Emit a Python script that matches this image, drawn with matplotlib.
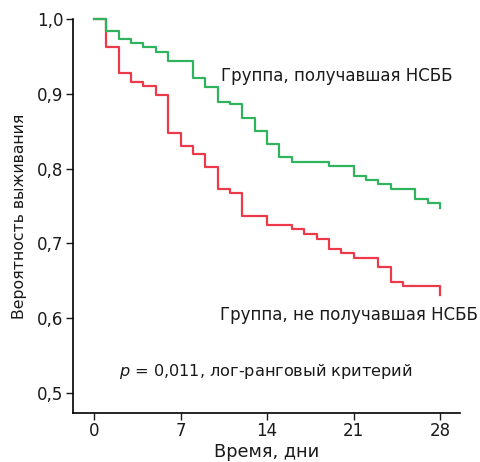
import matplotlib.pyplot as plt

# Кривые Каплана-Мейера
dni = list(range(0, 29))

s_nsbb = [1.000, 0.984, 0.973, 0.968, 0.962, 0.956, 0.944, 0.944, 0.921, 0.909,
          0.889, 0.886, 0.867, 0.850, 0.833, 0.815, 0.809, 0.809, 0.809, 0.803,
          0.803, 0.790, 0.785, 0.779, 0.773, 0.773, 0.760, 0.754, 0.748]

s_bez = [1.000, 0.962, 0.928, 0.916, 0.910, 0.899, 0.848, 0.830, 0.819, 0.802,
         0.773, 0.767, 0.737, 0.737, 0.725, 0.725, 0.719, 0.712, 0.706, 0.693,
         0.687, 0.681, 0.681, 0.669, 0.649, 0.643, 0.643, 0.643, 0.631]

x_ticks = [0, 7, 14, 21, 28]
y_ticks = [0.5, 0.6, 0.7, 0.8, 0.9, 1.0]
y_labels = ["0,5", "0,6", "0,7", "0,8", "0,9", "1,0"]

ZELENYI = "#2fb35c"
KRASNYI = "#ec3a4a"
TEKST = "#1a1a1a"

plt.rcParams["font.family"] = ["DejaVu Sans"]
plt.rcParams["mathtext.fontset"] = "dejavusans"

fig = plt.figure(figsize=(4.81, 4.62), dpi=100)
ax = fig.add_axes([0.1518, 0.1067, 0.8045, 0.8522])

ax.step(dni, s_bez, where="post", color=KRASNYI, linewidth=1.6, clip_on=False)
ax.step(dni, s_nsbb, where="post", color=ZELENYI, linewidth=1.6, clip_on=False)

ax.set_xlim(-1.7, 29.6)
ax.set_ylim(0.4737, 1.0)

ax.spines["top"].set_visible(False)
ax.spines["right"].set_visible(False)
ax.spines["left"].set_linewidth(1.2)
ax.spines["bottom"].set_linewidth(1.2)

ax.set_xticks(x_ticks)
ax.set_yticks(y_ticks)
ax.set_yticklabels(y_labels)
ax.tick_params(axis="both", labelsize=12, length=5, width=1.0, pad=2, colors=TEKST)

ax.set_xlabel("Время, дни", fontsize=12.8, labelpad=2, color=TEKST)
ax.set_ylabel("Вероятность выживания", fontsize=11.3, labelpad=7, color=TEKST)

ax.text(10.3, 0.924, "Группа, получавшая НСББ", fontsize=12, va="center", color=TEKST)
ax.text(10.2, 0.604, "Группа, не получавшая НСББ", fontsize=12, va="center", color=TEKST)
ax.text(2.0, 0.5285, "$p$ = 0,011, лог-ранговый критерий", fontsize=11.6, va="center", color=TEKST)

plt.savefig("out.png", dpi=100)
